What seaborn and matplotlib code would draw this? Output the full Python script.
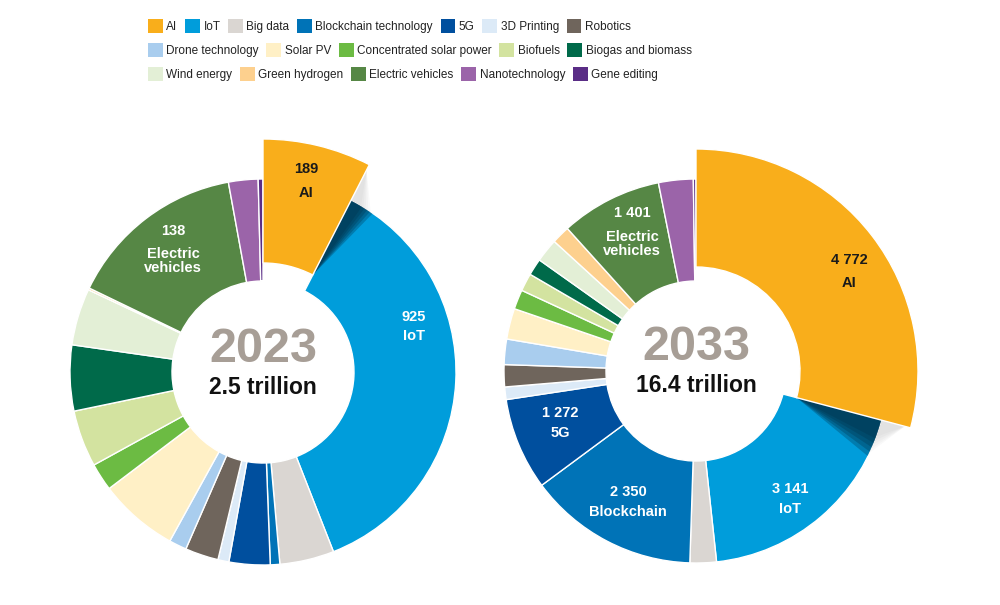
import matplotlib
matplotlib.use("Agg")
import matplotlib.pyplot as plt
from matplotlib.patches import Patch, Polygon
import numpy as np
import seaborn as sns

sns.set_theme(style="white")
plt.rcParams['font.family'] = ['Liberation Sans', 'DejaVu Sans']

# frontier technology market size, USD billion (slice sizes)
categories = ["AI", "IoT", "Big data", "Blockchain technology", "5G", "3D Printing",
              "Robotics", "Drone technology", "Solar PV", "Concentrated solar power",
              "Biofuels", "Biogas and biomass", "Wind energy", "Green hydrogen",
              "Electric vehicles", "Nanotechnology", "Gene editing"]
market_2023 = [189, 915, 114, 20, 86, 23, 70, 37, 167, 58, 119, 138, 119, 4, 375, 62, 10]
market_2033 = [4772, 3141, 364, 2350, 1272, 173, 305, 350, 424, 269, 246, 232, 323,
               250, 1401, 478, 36]
colors = ["#F9AE1B", "#009DDB", "#DAD6D2", "#0073B7", "#004F9E", "#DCEAF7", "#6F655C",
          "#A9CDEE", "#FFF0C6", "#6CBB43", "#D3E3A0", "#006A4A", "#E3EFD6", "#FDD08E",
          "#568745", "#9B64A9", "#5A2D86"]

years = ["2023", "2033"]
totals = ["2.5 trillion", "16.4 trillion"]
# printed callouts: (category, number, name)
callouts_2023 = [("AI", "189", "AI"), ("IoT", "925", "IoT"),
                 ("Electric vehicles", "138", "Electric\nvehicles")]
callouts_2033 = [("AI", "4 772", "AI"), ("IoT", "3 141", "IoT"),
                 ("Blockchain technology", "2 350", "Blockchain"), ("5G", "1 272", "5G"),
                 ("Electric vehicles", "1 401", "Electric\nvehicles")]

legend_rows = [categories[0:7], categories[7:12], categories[12:17]]

# layout (pixels)
centers = [(263, 372), (696, 371)]
ring = [(193, 91), (192, 90)]         # outer, inner radius
ai_ring = [(233, 109), (222, 104)]    # exploded AI slice
shadow_span = [7.5, 11.5]             # degrees of the drop shadow on IoT
callout_pos = [
    {"AI": (43, 203, 179), "IoT": (151, 55, 36), "Electric vehicles": (-90, 141, 111)},
    {"AI": (153, 111, 88), "IoT": (94, -118, -138), "Blockchain technology": (-68, -121, -141),
     "5G": (-136, -42, -62), "Electric vehicles": (-64, 158, 127)},
]


def arc(radius, a_from, a_to, n=16):
    t = np.radians(np.linspace(a_from, a_to, n))
    return list(zip(radius * np.cos(t), radius * np.sin(t)))


W, H = 1000, 605
fig = plt.figure(figsize=(W / 100, H / 100), dpi=100)
half = 260

for k, vals in enumerate([market_2023, market_2033]):
    cx, cy = centers[k]
    ax = fig.add_axes([(cx - half) / W, (H - cy - half) / H, 2 * half / W, 2 * half / H])
    R, r = ring[k]
    wedges, _ = ax.pie(vals, colors=colors, startangle=90, counterclock=False, radius=R,
                       wedgeprops=dict(width=R - r, edgecolor="white", linewidth=1.0))
    # exploded AI slice
    ai = wedges[0]
    Ra, ra = ai_ring[k]
    ai.set_radius(Ra)
    ai.set_width(Ra - ra)
    ai.set_zorder(5)
    # drop shadow of the AI slice: dark on IoT, light grey on the background
    a0 = ai.theta1
    apex = arc(ra, a0, a0, 1)
    for j in range(5):
        span = shadow_span[k] * (1 - j / 8)
        ax.add_patch(Polygon(apex + arc(R - 0.5, a0, a0 - span), closed=True,
                             facecolor="#03314a", edgecolor="none", alpha=0.3, zorder=4))
        ax.add_patch(Polygon(arc(Ra - 6, a0, a0, 1) + arc(R, a0 - span * 0.9, a0), closed=True,
                             facecolor="#8a8a8a", edgecolor="none", alpha=0.05, zorder=4))
    ax.set_xlim(-half, half)
    ax.set_ylim(-half, half)
    ax.set_aspect("equal")
    ax.axis("off")

    # centre text
    ax.text(0, 23, years[k], ha="center", va="center", fontsize=35, fontweight="bold",
            color="#A79E96", zorder=6)
    ax.text(0, -15, totals[k], ha="center", va="center", fontsize=16.5, fontweight="bold",
            color="#111111", zorder=6)

    callouts = [callouts_2023, callouts_2033][k]
    for cat, num, name in callouts:
        x, yn, yl = callout_pos[k][cat]
        c = "#1a1a1a" if cat == "AI" else "white"
        ax.text(x, yn, num, ha="center", va="center", fontsize=10.5, fontweight="bold",
                color=c, zorder=7)
        ax.text(x, yl, name, ha="center", va="center", fontsize=10.5, fontweight="bold",
                color=c, zorder=7, linespacing=1.0)

# legend, three flowing rows
col = dict(zip(categories, colors))
for i, row in enumerate(legend_rows):
    handles = [Patch(facecolor=col[c], edgecolor="none") for c in row]
    fig.legend(handles, row, loc="upper left", bbox_to_anchor=(148 / W, 1 - (19 + 24 * i) / H),
               ncol=len(row), frameon=False, fontsize=8.5, handlelength=1.25, handleheight=1.45,
               handletextpad=0.3, columnspacing=0.65, borderpad=0, borderaxespad=0,
               labelcolor="#222222")

plt.savefig("out.png", dpi=100, facecolor="white")
